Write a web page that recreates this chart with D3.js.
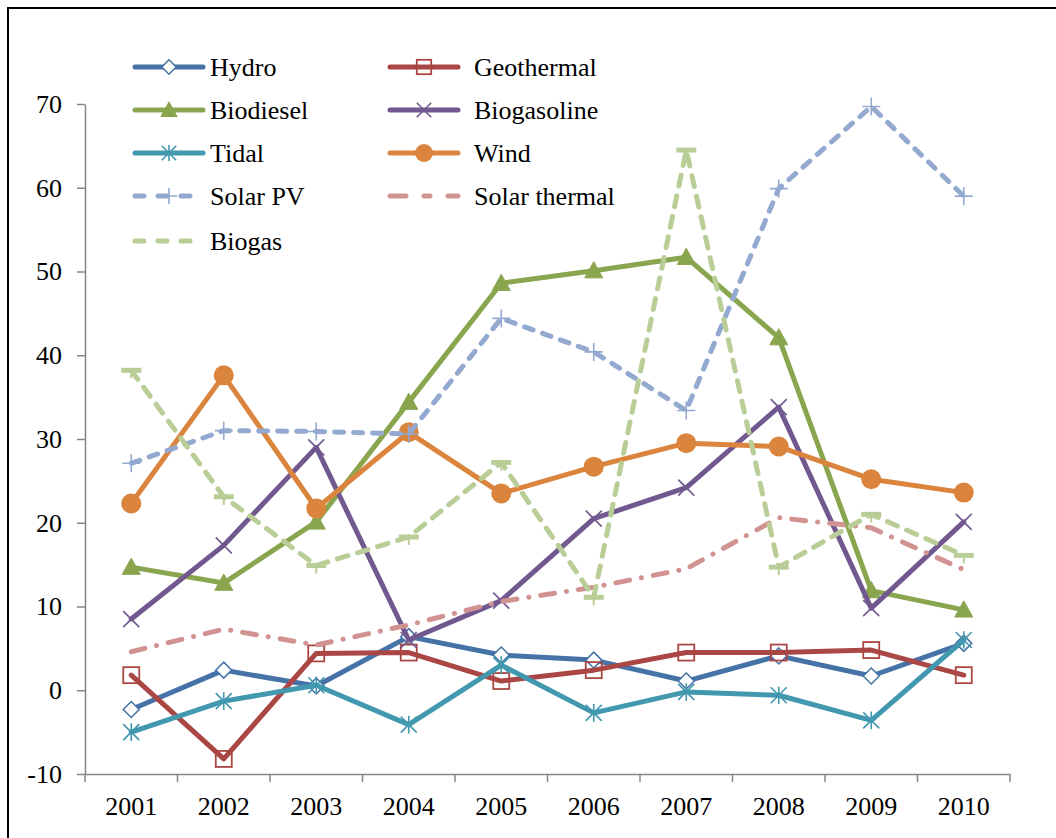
<!DOCTYPE html>
<html><head><meta charset="utf-8">
<script src="https://cdn.jsdelivr.net/npm/d3@7"></script>
<style>
html,body{margin:0;padding:0;background:#fff;} svg{display:block;}
</style>
</head><body>
<svg id="chart" width="1056" height="838"></svg>
<script>
const years = ["2001","2002","2003","2004","2005","2006","2007","2008","2009","2010"];
const hydro        = [-2.3, 2.4, 0.5, 6.4, 4.2, 3.6, 1.1, 4.1, 1.7, 5.6];
const geothermal   = [1.8, -8.2, 4.4, 4.5, 1.1, 2.4, 4.5, 4.5, 4.8, 1.8];
const biodiesel    = [14.7, 12.8, 20.1, 34.4, 48.6, 50.1, 51.7, 42.1, 11.9, 9.6];
const biogasoline  = [8.5, 17.3, 29.0, 6.0, 10.7, 20.5, 24.2, 33.8, 9.8, 20.1];
const tidal        = [-5.0, -1.3, 0.6, -4.1, 3.0, -2.7, -0.2, -0.6, -3.6, 6.0];
const wind         = [22.3, 37.6, 21.7, 30.8, 23.5, 26.7, 29.5, 29.1, 25.2, 23.6];
const solarPV      = [27.1, 31.0, 30.9, 30.6, 44.4, 40.4, 33.4, 59.9, 69.7, 59.0];
const solarThermal = [4.6, 7.3, 5.4, 7.8, 10.6, 12.3, 14.5, 20.6, 19.4, 14.4];
const biogas       = [38.2, 23.1, 14.9, 18.3, 27.2, 11.1, 64.5, 14.7, 21.0, 16.1];
const yTicks = [-10, 0, 10, 20, 30, 40, 50, 60, 70];
const yTickLabels = ["-10","0","10","20","30","40","50","60","70"];

const series = [
  {name:"Hydro", values:hydro, color:"#4572A7", dash:null, marker:"diamond"},
  {name:"Geothermal", values:geothermal, color:"#AA4643", dash:null, marker:"square"},
  {name:"Biodiesel", values:biodiesel, color:"#89A54E", dash:null, marker:"triangle"},
  {name:"Biogasoline", values:biogasoline, color:"#71588F", dash:null, marker:"x"},
  {name:"Tidal", values:tidal, color:"#4198AF", dash:null, marker:"star"},
  {name:"Wind", values:wind, color:"#DB843D", dash:null, marker:"circle"},
  {name:"Solar PV", values:solarPV, color:"#93A9CF", dash:"9,10", marker:"plus"},
  {name:"Solar thermal", values:solarThermal, color:"#D19392", dash:"14,12,0.1,12", marker:null},
  {name:"Biogas", values:biogas, color:"#B9CD96", dash:"11,10", marker:"bar"}
];

const svg = d3.select("#chart");
const font = "Liberation Serif";
const fs = "26px";

// frame
svg.append("rect").attr("x",8).attr("y",8).attr("width",1070).attr("height",850)
  .attr("fill","none").attr("stroke","#000").attr("stroke-width",2);

const x = d3.scaleBand().domain(years).range([85,1010]);
const y = d3.scaleLinear().domain([-10,70]).range([774,104]);
const axisColor = "#868686";

// y axis
const ya = svg.append("g").attr("transform","translate(85,0)")
  .call(d3.axisLeft(y).tickValues(yTicks).tickFormat((d,i)=>yTickLabels[i])
    .tickSize(8).tickPadding(15).tickSizeOuter(0));
ya.attr("font-family",font).attr("font-size",fs);
ya.select(".domain").attr("stroke",axisColor).attr("stroke-width",1.5);
ya.selectAll(".tick line").attr("stroke",axisColor).attr("stroke-width",1.5);
ya.selectAll("text").attr("font-family",font).attr("font-size",fs).attr("fill","#000");

// x axis
const xa = svg.append("g").attr("transform","translate(0,774)")
  .call(d3.axisBottom(x).tickSize(0).tickPadding(23));
xa.attr("font-family",font).attr("font-size",fs);
xa.select(".domain").attr("stroke",axisColor).attr("stroke-width",1.5);
xa.selectAll("text").attr("font-family",font).attr("font-size",fs).attr("fill","#000");
const bounds = years.map(d=>x(d)).concat([x(years[years.length-1])+x.bandwidth()]);
xa.selectAll(".btick").data(bounds).enter().append("line")
  .attr("x1",d=>d).attr("x2",d=>d).attr("y1",0).attr("y2",8)
  .attr("stroke",axisColor).attr("stroke-width",1.5);

function drawMarker(g, type, cx, cy, color, scale){
  const s = scale || 1;
  if(type==="diamond"){
    const r=8*s;
    g.append("path").attr("d",`M${cx},${cy-r}L${cx+r},${cy}L${cx},${cy+r}L${cx-r},${cy}Z`)
      .attr("fill","#fff").attr("stroke",color).attr("stroke-width",1.5);
  } else if(type==="square"){
    const r=8*s;
    g.append("rect").attr("x",cx-r).attr("y",cy-r).attr("width",2*r).attr("height",2*r)
      .attr("fill","none").attr("stroke",color).attr("stroke-width",1.8);
  } else if(type==="triangle"){
    const r=9*s;
    g.append("path").attr("d",`M${cx},${cy-r}L${cx+r},${cy+r*0.8}L${cx-r},${cy+r*0.8}Z`)
      .attr("fill",color).attr("stroke",color).attr("stroke-width",1);
  } else if(type==="x"){
    const r=8*s;
    g.append("path").attr("d",`M${cx-r},${cy-r}L${cx+r},${cy+r}M${cx-r},${cy+r}L${cx+r},${cy-r}`)
      .attr("stroke",color).attr("stroke-width",1.6).attr("fill","none");
  } else if(type==="star"){
    const r=8*s;
    g.append("path").attr("d",`M${cx-r},${cy-r}L${cx+r},${cy+r}M${cx-r},${cy+r}L${cx+r},${cy-r}M${cx},${cy-r*1.1}L${cx},${cy+r*1.1}`)
      .attr("stroke",color).attr("stroke-width",1.6).attr("fill","none");
  } else if(type==="circle"){
    g.append("circle").attr("cx",cx).attr("cy",cy).attr("r",10*s).attr("fill",color);
  } else if(type==="plus"){
    const r=9*s;
    g.append("path").attr("d",`M${cx-r},${cy}L${cx+r},${cy}M${cx},${cy-r}L${cx},${cy+r}`)
      .attr("stroke",color).attr("stroke-width",1.6).attr("fill","none");
  } else if(type==="bar"){
    g.append("rect").attr("x",cx-10*s).attr("y",cy-2.5).attr("width",20*s).attr("height",5)
      .attr("fill",color);
    g.append("line").attr("x1",cx).attr("x2",cx).attr("y1",cy).attr("y2",cy+8*s)
      .attr("stroke",color).attr("stroke-width",2);
  }
}

const line = d3.line().x((d,i)=>x(years[i])+x.bandwidth()/2).y(d=>y(d));
const plot = svg.append("g");
series.forEach(s=>{
  const g = plot.append("g");
  g.append("path").datum(s.values).attr("d",line).attr("fill","none")
    .attr("stroke",s.color).attr("stroke-width",5)
    .attr("stroke-linecap","round").attr("stroke-linejoin","round")
    .attr("stroke-dasharray",s.dash);
  if(s.marker){
    s.values.forEach((v,i)=>drawMarker(g, s.marker, x(years[i])+x.bandwidth()/2, y(v), s.color, 1));
  }
});

// legend
const legend = svg.append("g");
const rowsY = [67,110,153,196,241];
series.forEach((s,i)=>{
  const col = i%2, row = Math.floor(i/2);
  const lx = col===0 ? 135 : 390;
  const ly = rowsY[row];
  const g = legend.append("g");
  g.append("line").attr("x1",lx).attr("x2",lx+68).attr("y1",ly).attr("y2",ly)
    .attr("stroke",s.color).attr("stroke-width",5).attr("stroke-linecap","round")
    .attr("stroke-dasharray", s.dash===null ? null : (s.name==="Solar thermal" ? "16,18,6,18" : "9,14"));
  if(s.marker && s.marker!=="bar") drawMarker(g, s.marker, lx+34, ly, s.color, 0.9);
  g.append("text").attr("x", col===0 ? 210 : 474)
    .attr("y",ly+9).attr("font-family",font).attr("font-size",fs).attr("fill","#000")
    .text(s.name);
});
</script>
</body></html>
